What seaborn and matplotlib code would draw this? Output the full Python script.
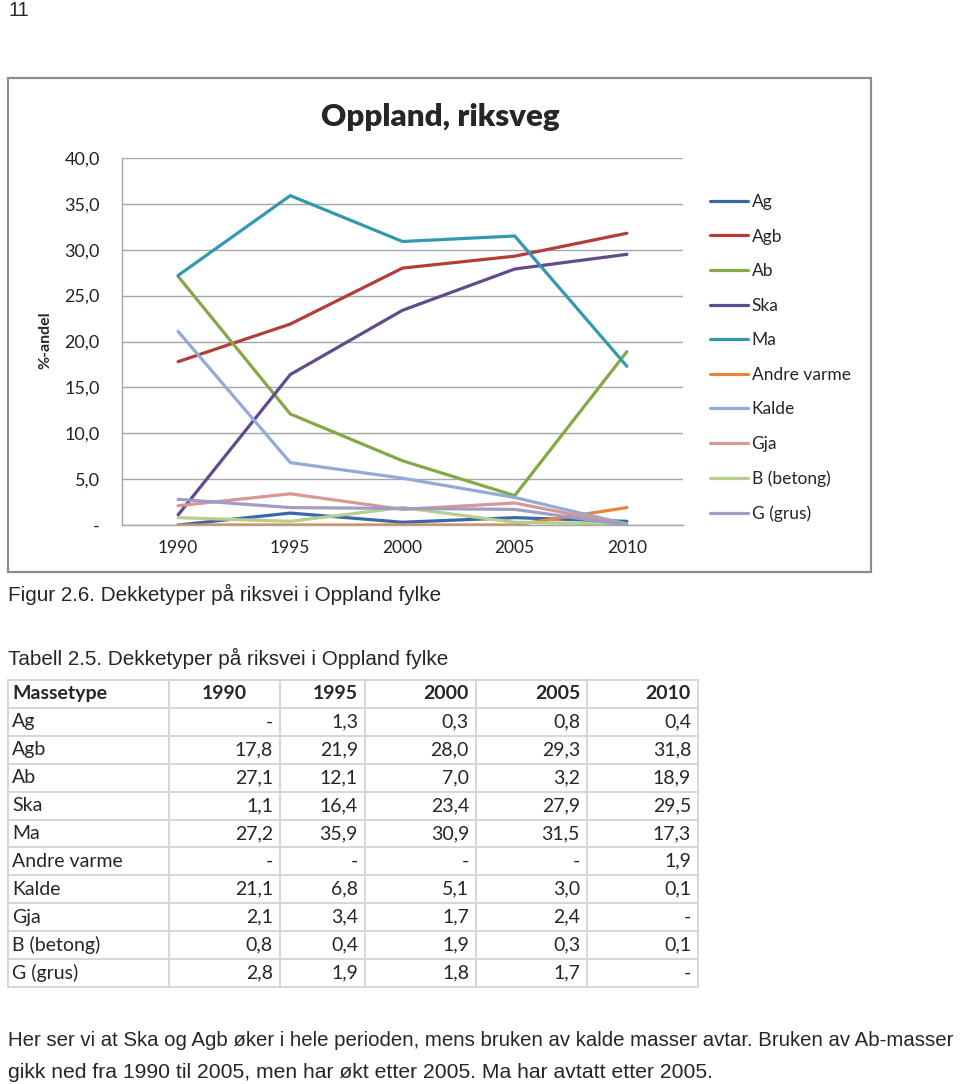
import pandas as pd
import seaborn as sns
import matplotlib.pyplot as plt
from matplotlib.patches import Rectangle

# data (aarstall og %-andel per massetype, lest av tabell 2.5)
aar = [1990, 1995, 2000, 2005, 2010]
massetyper = ["Ag", "Agb", "Ab", "Ska", "Ma", "Andre varme", "Kalde",
              "Gja", "B (betong)", "G (grus)"]
ag = [0.0, 1.3, 0.3, 0.8, 0.4]
agb = [17.8, 21.9, 28.0, 29.3, 31.8]
ab = [27.1, 12.1, 7.0, 3.2, 18.9]
ska = [1.1, 16.4, 23.4, 27.9, 29.5]
ma = [27.2, 35.9, 30.9, 31.5, 17.3]
andre_varme = [0.0, 0.0, 0.0, 0.0, 1.9]
kalde = [21.1, 6.8, 5.1, 3.0, 0.1]
gja = [2.1, 3.4, 1.7, 2.4, 0.0]
b_betong = [0.8, 0.4, 1.9, 0.3, 0.1]
g_grus = [2.8, 1.9, 1.8, 1.7, 0.0]
serier = [ag, agb, ab, ska, ma, andre_varme, kalde, gja, b_betong, g_grus]
farger = ["#3a68a8", "#b23d39", "#84a846", "#614b8c", "#3398b2",
          "#e5863a", "#92abd6", "#d79895", "#b6cf8e", "#a19cc6"]

rader = []
for navn, verdier in zip(massetyper, serier):
    for a, v in zip(aar, verdier):
        rader.append({"aar": a, "andel": v, "type": navn})
df = pd.DataFrame(rader)

sns.set_style("white")
plt.rcParams["font.family"] = ["Lato", "DejaVu Sans"]

W, H = 960, 1084
fig = plt.figure(figsize=(9.6, 10.84), dpi=100)

# overlay in pixel coords for the page text, table and chart frame
ov = fig.add_axes([0, 0, 1, 1])
ov.set_xlim(0, W)
ov.set_ylim(H, 0)
ov.axis("off")
ov.add_patch(Rectangle((8, 78), 863, 494, fill=False, ec="#8c8c8c", lw=1.6))

# the chart
ax = fig.add_axes([122 / W, 1 - 525 / H, (683 - 122) / W, (525 - 158) / H])
sns.lineplot(data=df, x="aar", y="andel", hue="type", hue_order=massetyper,
             palette=dict(zip(massetyper, farger)), linewidth=2.3, ax=ax)
ax.set_xlim(1987.5, 2012.5)
ax.set_ylim(0, 40)
ax.set_xticks(aar)
ax.set_xticklabels([str(a) for a in aar])
yt = list(range(0, 41, 5))
ax.set_yticks(yt)
ax.set_yticklabels(["-" if v == 0 else f"{v:.1f}".replace(".", ",") for v in yt])
ax.yaxis.grid(True, color="#a6a6a6", lw=1.0)
ax.set_axisbelow(True)
for s in ["top", "right"]:
    ax.spines[s].set_visible(False)
for s in ["left", "bottom"]:
    ax.spines[s].set_color("#a6a6a6")
    ax.spines[s].set_linewidth(1.0)
ax.tick_params(axis="y", length=0, pad=16, labelsize=13, colors="#222222")
ax.tick_params(axis="x", length=0, pad=11, labelsize=12.5, colors="#222222")
ax.set_xlabel("")
ax.set_ylabel("")

handles, labels = ax.get_legend_handles_labels()
ax.legend(handles, labels, loc="upper left",
          bbox_to_anchor=(703 / W, 1 - 187 / H), bbox_transform=fig.transFigure,
          frameon=False, fontsize=12.5, handlelength=2.2, handletextpad=0.2,
          labelspacing=1.07, borderaxespad=0)

ov.text(440, 117, "Oppland, riksveg", fontsize=22.5, fontweight="heavy",
        ha="center", va="center")
ov.text(45, 340, "%-andel", fontsize=11.5, fontweight="bold", rotation=90,
        ha="center", va="center")

# page text
side = ["Liberation Sans", "DejaVu Sans"]
ov.text(8, 10, "11", fontsize=14.5, family=side, va="center")
ov.text(8, 594, "Figur 2.6. Dekketyper på riksvei i Oppland fylke",
        fontsize=14.9, family=side, va="center")
ov.text(8, 658, "Tabell 2.5. Dekketyper på riksvei i Oppland fylke",
        fontsize=14.9, family=side, va="center")
ov.text(8, 1040, "Her ser vi at Ska og Agb øker i hele perioden, mens bruken av "
        "kalde masser avtar. Bruken av Ab-masser", fontsize=14.7, family=side,
        va="center")
ov.text(8, 1072, "gikk ned fra 1990 til 2005, men har økt etter 2005. "
        "Ma har avtatt etter 2005.", fontsize=15.2, family=side, va="center")

# table 2.5
kol = [8, 169, 280, 365, 476, 587, 698]
topp, rh = 680, 27.9
nrad = len(massetyper) + 1
for i in range(nrad + 1):
    y = topp + i * rh
    ov.plot([kol[0], kol[-1]], [y, y], color="#d6d6d6", lw=1.4)
for x in kol:
    ov.plot([x, x], [topp, topp + nrad * rh], color="#d6d6d6", lw=1.4)

fs = 14
yc = topp + rh / 2
ov.text(12, yc, "Massetype", fontsize=fs, fontweight="bold", va="center")
for j, a in enumerate(aar):
    if j == 0:
        ov.text((kol[1] + kol[2]) / 2, yc, str(a), fontsize=fs,
                fontweight="bold", ha="center", va="center")
    else:
        ov.text(kol[j + 2] - 7, yc, str(a), fontsize=fs, fontweight="bold",
                ha="right", va="center")

for i, (navn, verdier) in enumerate(zip(massetyper, serier)):
    yc = topp + (i + 1.5) * rh
    ov.text(12, yc, navn, fontsize=fs, va="center")
    for j, v in enumerate(verdier):
        txt = "-" if v == 0 else f"{v:.1f}".replace(".", ",")
        ov.text(kol[j + 2] - 7, yc, txt, fontsize=fs, ha="right", va="center")

plt.savefig("out.png", dpi=100)
plt.close()
